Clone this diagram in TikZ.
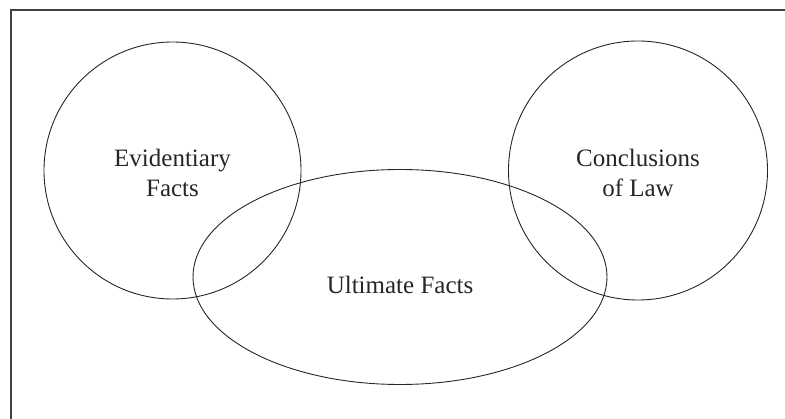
\documentclass[tikz,border=0pt]{standalone}
\usepackage{fontspec}
\setmainfont{Liberation Serif}
\begin{document}
\begin{tikzpicture}[x=1pt,y=-1pt,
  ring/.style={draw=black!85,line width=0.9pt},
  lbl/.style={align=center,font=\fontsize{25}{30}\selectfont,text=black!85}]
\useasboundingbox (0,0) rectangle (785,419);
% open frame: top and left edges
\draw[line width=1.3pt,black!75] (11,419) -- (11,10) -- (785,10);
% the three regions
\draw[ring] (172.5,170.5) circle[radius=128.5];
\draw[ring] (638,170.5) circle[radius=129.5];
\draw[ring] (400,277) ellipse[x radius=207,y radius=107.5];
% labels
\node[lbl] (ev) at (172.5,173) {Evidentiary\\Facts};
\node[lbl] (cl) at (638,173) {Conclusions\\of Law};
\node[lbl] (ul) at (400,285) {Ultimate Facts};
\end{tikzpicture}
\end{document}
